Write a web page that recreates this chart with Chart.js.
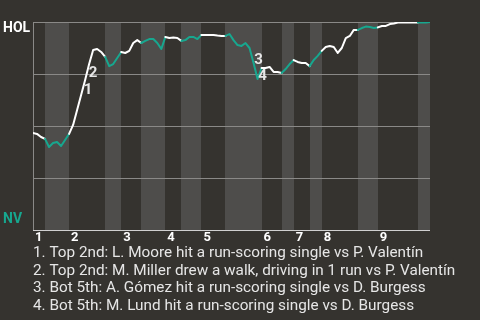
<!DOCTYPE html>
<html><head><meta charset="utf-8">
<script src="https://cdn.jsdelivr.net/npm/chart.js@4"></script>
<style>html,body{margin:0;padding:0;background:#35332f;}canvas{display:block}</style>
</head><body><canvas id="c" width="480" height="320"></canvas>
<script>
// HOL win probability (%) after each play
const winProb = [46.6,46.2,44.7,43.8,39.9,41.8,42.3,40.4,43.3,46.2,
  50.5,57.7,64.9,72.1,79.8,86.5,87.0,85.6,83.2,78.8,
  79.8,82.7,85.6,85.1,86.1,89.9,91.3,89.9,90.9,91.8,
  91.8,89.9,87.0,92.8,92.3,92.5,92.3,90.9,91.3,92.8,
  92.8,91.8,93.8,93.8,93.8,93.8,93.5,93.3,93.3,94.2,
  91.3,88.9,88.5,89.9,87.5,80.3,72.6,77.9,77.9,78.4,
  76.0,76.0,75.5,77.4,79.8,81.7,80.8,80.3,80.3,78.8,
  81.7,83.7,86.1,88.0,88.5,88.0,85.1,87.5,92.3,93.3,
  96.2,96.2,97.1,97.8,97.6,97.1,97.4,98.1,98.1,99.0,
  99.3,99.7,99.8,99.8,99.8,99.8,99.8,99.8,99.8,100];
// play index where each half-inning starts (top 1, bot 1, top 2, ...)
const halfInningStarts = [0,3,9,18,22,27,33,37,42,48,57,62,65,69,72,81,86,96];
const lastPlay = 99;
const inningLabels = ['1','2','3','4','5','6','7','8','9'];
const keyPlays = [13,14,55,56];
const keyPlayLabels = ['1','2','3','4'];
const notes = [
  '1. Top 2nd: L. Moore hit a run-scoring single vs P. Valentín',
  '2. Top 2nd: M. Miller drew a walk, driving in 1 run vs P. Valentín',
  '3. Bot 5th: A. Gómez hit a run-scoring single vs D. Burgess',
  '4. Bot 5th: M. Lund hit a run-scoring single vs D. Burgess'
];
const teamTop = 'HOL', teamBottom = 'NV';
const gridValues = [0,25,50,75,100];

const BG = '#35332f', BAND = '#4e4d4b', GRID = '#8a8987', AXIS = '#d0d0d0';
const WHITE = '#ffffff', TEAL = '#17a78f', TEXT = '#e6e6e6';
const keyOffsets = [[3,10],[4,9],[5,-3],[5,-3]];

function halfIndex(x){ let k=0; for(let i=0;i<halfInningStarts.length;i++){ if(halfInningStarts[i]<=x) k=i; } return k; }

const deco = {
  id:'deco',
  beforeDraw(chart){
    const {ctx, chartArea:a, scales:{x,y}} = chart;
    ctx.save();
    ctx.fillStyle = BG; ctx.fillRect(0,0,chart.width,chart.height);
    for(let i=0;i<halfInningStarts.length;i++){
      const s = halfInningStarts[i], e = i+1<halfInningStarts.length ? halfInningStarts[i+1] : lastPlay;
      if(i%2===1){ ctx.fillStyle = BAND; const x0=Math.round(x.getPixelForValue(s)), x1=Math.round(x.getPixelForValue(e)); ctx.fillRect(x0,a.top,x1-x0,a.bottom-a.top); }
    }
    ctx.strokeStyle = GRID; ctx.lineWidth = 1;
    gridValues.forEach(v=>{ if(v===0) return; const py=Math.round(y.getPixelForValue(v))+0.5; ctx.beginPath(); ctx.moveTo(a.left,py); ctx.lineTo(a.right,py); ctx.stroke(); });
    ctx.beginPath(); ctx.moveTo(Math.round(a.left)+0.5,a.top); ctx.lineTo(Math.round(a.left)+0.5,a.bottom); ctx.stroke();
    ctx.restore();
  },
  afterDraw(chart){
    const {ctx, chartArea:a, scales:{x,y}} = chart;
    ctx.save();
    const py=Math.round(y.getPixelForValue(0))+0.5;
    ctx.strokeStyle = AXIS; ctx.lineWidth=1; ctx.beginPath(); ctx.moveTo(a.left,py); ctx.lineTo(a.right,py); ctx.stroke();
    // team labels
    ctx.font = 'bold 14px Roboto'; ctx.textBaseline='middle'; ctx.textAlign='left';
    ctx.fillStyle = WHITE; ctx.fillText(teamTop, 3, a.top+6);
    ctx.fillStyle = TEAL; ctx.fillText(teamBottom, 3, a.bottom-11);
    // inning labels
    ctx.fillStyle = WHITE; ctx.font='bold 13px Roboto';
    inningLabels.forEach((t,i)=>{ ctx.fillText(t, x.getPixelForValue(halfInningStarts[i*2])+2, a.bottom+8); });
    // key play labels
    ctx.font='bold 15px Roboto'; ctx.fillStyle=TEXT; ctx.textAlign='center';
    keyPlays.forEach((p,i)=>{ ctx.fillText(keyPlayLabels[i], x.getPixelForValue(p)+keyOffsets[i][0], y.getPixelForValue(winProb[p])+keyOffsets[i][1]); });
    // notes
    ctx.font='15.3px Roboto'; ctx.textAlign='left'; ctx.fillStyle=TEXT;
    notes.forEach((n,i)=>{ ctx.fillText(n, 33, a.bottom+23+i*17.7); });
    ctx.restore();
  }
};

new Chart(document.getElementById('c'), {
  type:'line',
  data:{ datasets:[{
    data: winProb.map((v,i)=>({x:i,y:v})),
    borderColor: WHITE, borderWidth:2, pointRadius:0, tension:0, fill:false,
    segment:{ borderColor: c => halfIndex((c.p0.parsed.x+c.p1.parsed.x)/2)%2===1 ? TEAL : WHITE }
  }]},
  options:{
    responsive:false, animation:false, devicePixelRatio:1,
    layout:{ padding:{left:33, top:22, right:50, bottom:90} },
    plugins:{ legend:{display:false}, tooltip:{enabled:false} },
    scales:{
      x:{ type:'linear', min:0, max:lastPlay, display:false },
      y:{ min:0, max:100, display:false }
    },
    elements:{ line:{ borderCapStyle:'round', borderJoinStyle:'round' } }
  },
  plugins:[deco]
});
</script></body></html>
